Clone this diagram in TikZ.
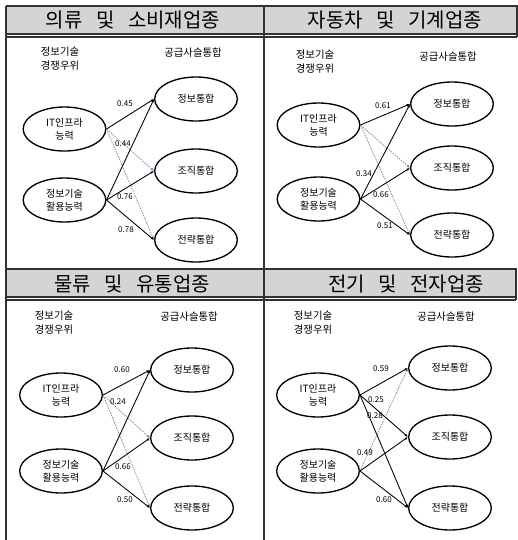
\documentclass[tikz,border=0pt]{standalone}
\usepackage{fontspec}
\setmainfont{Noto Sans CJK KR}
\newfontfamily\hdfont[WordSpace=3]{Noto Sans CJK KR}
\usetikzlibrary{shapes.geometric,arrows.meta}
\definecolor{hdgray}{RGB}{212,212,212}
\definecolor{frmcol}{RGB}{50,50,50}
\definecolor{dshcol}{RGB}{95,135,195}
\tikzset{
  frm/.style={draw=frmcol, line width=1.1pt},
  ell/.style={ellipse, draw=black, line width=1pt, minimum width=62pt, minimum height=33pt, inner sep=0pt, align=center, font=\fontsize{7.5}{9.5}\selectfont},
  hd/.style={font=\hdfont\fontsize{15}{18}\selectfont, inner sep=0pt},
  toplbl/.style={align=center, font=\fontsize{7.8}{10.5}\selectfont, inner sep=0pt},
  num/.style={font=\fontsize{6}{7}\selectfont, inner sep=0pt},
  sol/.style={draw=black, line width=0.65pt, -{Latex[length=2.5pt,width=2pt]}},
  dsh/.style={draw=dshcol, line width=0.5pt, dash pattern=on 1.2pt off 0.8pt, -{Latex[length=2.5pt,width=2pt]}}
}
\begin{document}
\begin{tikzpicture}[x=0.75pt,y=-0.75pt]
\useasboundingbox (0,0) rectangle (518,540);
% frame
\fill[hdgray] (6,6) rectangle (517,34);
\fill[hdgray] (6,269) rectangle (516,297);
\draw[frm] (6,6) -- (517,6) -- (517,37);
\draw[frm] (6,34) -- (517,34);
\draw[frm] (6,37) -- (517,37);
\draw[frm] (6,269) -- (516,269) -- (516,300);
\draw[frm] (6,297) -- (516,297);
\draw[frm] (6,300) -- (516,300);
\draw[frm] (6,6) -- (6,540);
\draw[frm] (264,6) -- (264,540);
% headers
\node[hd] (t1) at (133,20) {의류 및 소비재업종};
\node[hd] (t2) at (395,20) {자동차 및 기계업종};
\node[hd] (t3) at (132,284) {물류 및 유통업종};
\node[hd] (t4) at (406,284) {전기 및 전자업종};
% top labels
\node[toplbl] (c1) at (60,59) {정보기술\\경쟁우위};
\node[toplbl] (g1) at (193,53) {공급사슬통합};
\node[toplbl] (c2) at (315,62) {정보기술\\경쟁우위};
\node[toplbl] (g2) at (448,57) {공급사슬통합};
\node[toplbl] (c3) at (54,323) {정보기술\\경쟁우위};
\node[toplbl] (g3) at (189,317) {공급사슬통합};
\node[toplbl] (c4) at (313,323) {정보기술\\경쟁우위};
\node[toplbl] (g4) at (446,317) {공급사슬통합};
% panel 1
\node[ell] (a1) at (64.5,129) {IT인프라\\능력};
\node[ell] (b1) at (64.5,200) {정보기술\\활용능력};
\node[ell] (p1) at (196,99) {정보통합};
\node[ell] (q1) at (196,171) {조직통합};
\node[ell] (r1) at (196,240) {전략통합};
\draw[sol] (a1.east) -- (p1.west);
\draw[dsh] (a1.east) -- (q1.west);
\draw[dsh] (a1.east) -- (r1.west);
\draw[sol] (b1.east) -- (p1.west);
\draw[sol] (b1.east) -- (q1.west);
\draw[sol] (b1.east) -- (r1.west);
\node[num] (n11) at (125,104) {0.45};
\node[num] (n12) at (123,144) {0.44};
\node[num] (n13) at (125,197) {0.76};
\node[num] (n14) at (126,230) {0.78};
% panel 2
\node[ell] (a2) at (318.5,125) {IT인프라\\능력};
\node[ell] (b2) at (318.5,199) {정보기술\\활용능력};
\node[ell] (p2) at (452,104) {정보통합};
\node[ell] (q2) at (452,168) {조직통합};
\node[ell] (r2) at (452,235) {전략통합};
\draw[sol] (a2.east) -- (p2.west);
\draw[dsh] (a2.east) -- (q2.west);
\draw[dsh] (a2.east) -- (r2.west);
\draw[sol] (b2.east) -- (p2.west);
\draw[sol] (b2.east) -- (q2.west);
\draw[sol] (b2.east) -- (r2.west);
\node[num] (n21) at (383,106) {0.61};
\node[num] (n22) at (364,174) {0.34};
\node[num] (n23) at (381,195) {0.66};
\node[num] (n24) at (385,226) {0.51};
% panel 3
\node[ell] (a3) at (61,395) {IT인프라\\능력};
\node[ell] (b3) at (61,471) {정보기술\\활용능력};
\node[ell] (p3) at (192,370) {정보통합};
\node[ell] (q3) at (192,438) {조직통합};
\node[ell] (r3) at (192,508) {전략통합};
\draw[sol] (a3.east) -- (p3.west);
\draw[dsh] (a3.east) -- (q3.west);
\draw[dsh] (a3.east) -- (r3.west);
\draw[sol] (b3.east) -- (p3.west);
\draw[sol] (b3.east) -- (q3.west);
\draw[sol] (b3.east) -- (r3.west);
\node[num] (n31) at (122,370) {0.60};
\node[num] (n32) at (118,402) {0.24};
\node[num] (n33) at (123,467) {0.66};
\node[num] (n34) at (125,500) {0.50};
% panel 4
\node[ell] (a4) at (318,395) {IT인프라\\능력};
\node[ell] (b4) at (318,471) {정보기술\\활용능력};
\node[ell] (p4) at (450,368) {정보통합};
\node[ell] (q4) at (450,437) {조직통합};
\node[ell] (r4) at (450,508) {전략통합};
\draw[sol] (a4.east) -- (p4.west);
\draw[sol] (a4.east) -- (q4.west);
\draw[sol] (a4.east) -- (r4.west);
\draw[dsh] (b4.east) -- (p4.west);
\draw[sol] (b4.east) -- (q4.west);
\draw[sol] (b4.east) -- (r4.west);
\node[num] (n41) at (381,369) {0.59};
\node[num] (n42) at (376,400) {0.25};
\node[num] (n43) at (375,416) {0.28};
\node[num] (n44) at (365,453) {0.49};
\node[num] (n45) at (384,500) {0.60};
\end{tikzpicture}
\end{document}
